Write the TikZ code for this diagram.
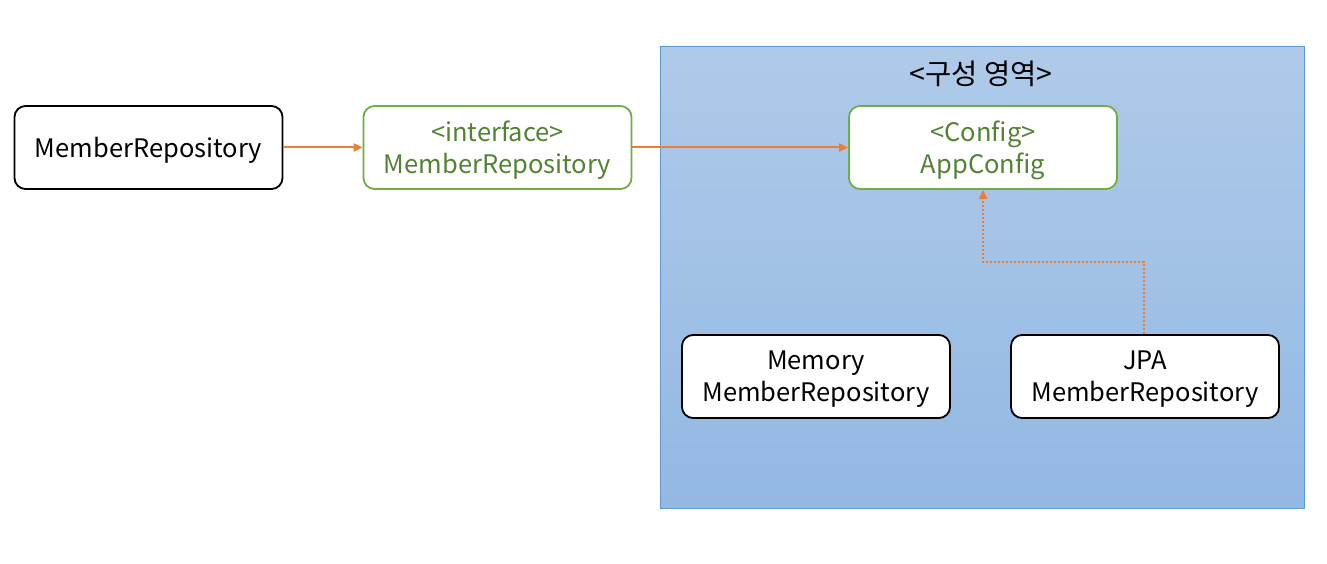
\documentclass[tikz,border=0pt]{standalone}
\usepackage{fontspec}
\setmainfont{Noto Sans CJK KR}
\usetikzlibrary{arrows.meta,calc}
\definecolor{gtext}{HTML}{548235}
\definecolor{gline}{HTML}{70AD47}
\definecolor{oline}{HTML}{ED7D31}
\definecolor{btop}{HTML}{AFCAE9}
\definecolor{bbot}{HTML}{93B8E3}
\definecolor{bline}{HTML}{5B9BD5}
\begin{document}
\begin{tikzpicture}[x=1pt,y=-1pt,
  box/.style={draw=black,line width=1.8pt,rounded corners=11pt,fill=white,minimum width=268pt,minimum height=83pt,inner sep=0pt},
  gbox/.style={box,draw=gline},
  txt/.style={align=center,font=\fontsize{25.5}{32}\selectfont,yshift=-3pt,inner sep=0pt},
  gtxt/.style={txt,text=gtext},
  conn/.style={draw=oline,line width=2pt,-{Triangle[length=9pt,width=8pt]}}]
\useasboundingbox (0,0) rectangle (1327,564);
\fill[white] (0,0) rectangle (1327,564);
\shade[top color=btop,bottom color=bbot,draw=bline,line width=1pt] (660,47) rectangle (1304,508);
\node[font=\fontsize{28.5}{30}\selectfont] (title) at (981,74) {<구성 영역>};
\node[box,label={[txt]center:MemberRepository}] (mr) at (148.5,147.5) {};
\node[gbox,label={[gtxt]center:<interface>\\MemberRepository}] (imr) at (497.5,147.5) {};
\node[gbox,label={[gtxt]center:<Config>\\AppConfig}] (app) at (983,147.5) {};
\node[box,label={[txt]center:Memory\\MemberRepository}] (mem) at (816,376.5) {};
\node[box,label={[txt]center:JPA\\MemberRepository}] (jpa) at (1145,376.5) {};
\draw[conn] (mr) -- (imr);
\draw[conn] (imr) -- (app);
\coordinate (bend) at (1144,262);
\draw[conn,dotted] (jpa.north -| bend) -- (bend) -| (app.south);
\end{tikzpicture}
\end{document}
